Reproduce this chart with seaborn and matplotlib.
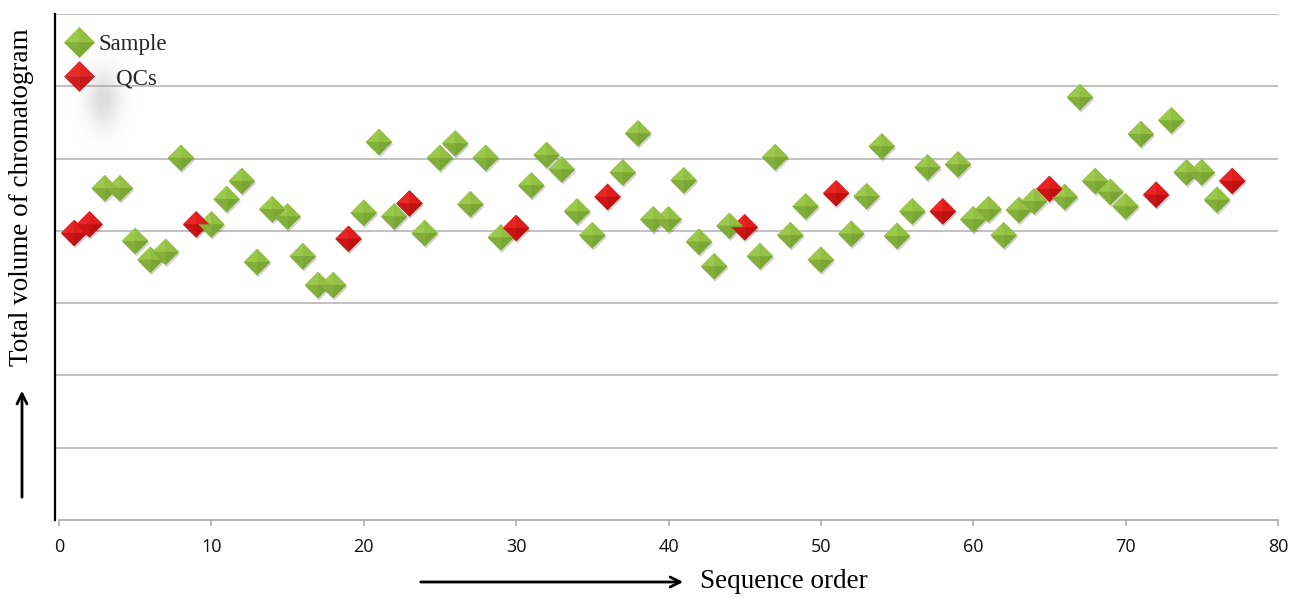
import numpy as np
import pandas as pd
import matplotlib
matplotlib.use("Agg")
import matplotlib.pyplot as plt
import matplotlib.patheffects as pe
import seaborn as sns
from matplotlib.path import Path
from matplotlib.lines import Line2D
from matplotlib.patches import FancyArrowPatch
from matplotlib.legend_handler import HandlerTuple

# ---- data -----------------------------------------------------------------
run_order = list(range(1, 78))
total_volume = [
    3.97, 4.09, 4.59, 4.59, 3.86, 3.60, 3.71, 5.01, 4.09, 4.09,
    4.44, 4.69, 3.57, 4.30, 4.20, 3.65, 3.25, 3.25, 3.89, 4.25,
    5.23, 4.20, 4.38, 3.97, 5.01, 5.21, 4.37, 5.01, 3.91, 4.04,
    4.63, 5.05, 4.85, 4.27, 3.94, 4.47, 4.81, 5.35, 4.16, 4.16,
    4.70, 3.85, 3.51, 4.07, 4.05, 3.65, 5.02, 3.94, 4.34, 3.60,
    4.52, 3.96, 4.48, 5.17, 3.93, 4.27, 4.88, 4.27, 4.92, 4.16,
    4.30, 3.94, 4.29, 4.41, 4.58, 4.47, 5.85, 4.69, 4.54, 4.34,
    5.34, 4.50, 5.53, 4.81, 4.81, 4.43, 4.69,
]
qc_runs = [1, 2, 9, 19, 23, 30, 36, 45, 51, 58, 65, 72, 77]
groups = ["Sample", "QCs"]
x_ticks = [0, 10, 20, 30, 40, 50, 60, 70, 80]

df = pd.DataFrame({
    "order": run_order,
    "volume": total_volume,
    "group": ["QCs" if r in qc_runs else "Sample" for r in run_order],
})

# ---- styling --------------------------------------------------------------
W, H, DPI = 1290, 598, 100
sns.set_theme(style="white")
plt.rcParams["font.family"] = ["Liberation Serif", "DejaVu Serif"]


# pyramid-shaded diamond: full body + four facets
def tri(a, b):
    return Path([(0, 0), a, b, (0, 0)],
                [Path.MOVETO, Path.LINETO, Path.LINETO, Path.CLOSEPOLY])


T, R, B, L = (0, 1), (1, 0), (0, -1), (-1, 0)
body = Path([T, R, B, L, T],
            [Path.MOVETO, Path.LINETO, Path.LINETO, Path.LINETO, Path.CLOSEPOLY])
facets = [tri(L, T), tri(T, R), tri(R, B), tri(B, L)]

body_col = {"Sample": "#8cb83f", "QCs": "#d51818"}
facet_cols = [
    {"Sample": "#9cc84c", "QCs": "#e92525"},  # upper left
    {"Sample": "#93c044", "QCs": "#df1d1d"},  # upper right
    {"Sample": "#7ba633", "QCs": "#bf1010"},  # lower right
    {"Sample": "#83ae39", "QCs": "#c91515"},  # lower left
]
MS = 360

fig = plt.figure(figsize=(W / DPI, H / DPI), dpi=DPI)
x0_px, x80_px = 59.0, 1278.0
ppu = (x80_px - x0_px) / 80.0
left_data = -0.25
ax = fig.add_axes([(x0_px + left_data * ppu) / W, 78 / H,
                   (x80_px - x0_px - left_data * ppu) / W, (520 - 14) / H])

# soft grey haze under the legend
gx = np.linspace(-3, 3, 80)
gy = np.linspace(-3, 3, 100)
GX, GY = np.meshgrid(gx, gy)
haze = np.zeros((100, 80, 4))
haze[..., :3] = 0.55
haze[..., 3] = 0.30 * np.exp(-0.5 * (GX ** 2 + GY ** 2))
ax.imshow(haze, extent=(0.6, 5.2, 5.0, 6.65), aspect="auto",
          zorder=1, interpolation="bilinear")

# grid
for yv in range(1, 8):
    ax.axhline(yv, color="#b0b0b0", lw=1.1, zorder=0.5)

# markers (body with a faint drop shadow, then shaded facets)
sns.scatterplot(data=df, x="order", y="volume", hue="group", hue_order=groups,
                palette=body_col, marker=body, s=MS, linewidth=0,
                legend=False, ax=ax, zorder=3)
ax.collections[-1].set_path_effects(
    [pe.SimplePatchShadow(offset=(0.8, -1.6), shadow_rgbFace="#000000",
                          alpha=0.18), pe.Normal()])
for cols, fp in zip(facet_cols, facets):
    sns.scatterplot(data=df, x="order", y="volume", hue="group",
                    hue_order=groups, palette=cols, marker=fp, s=MS,
                    linewidth=0, legend=False, ax=ax, zorder=3)

ax.set_xlim(left_data, 80)
ax.set_ylim(0, 7)

# axes
ax.set_xticks(x_ticks)
ax.set_xticklabels([str(t) for t in x_ticks], family="Open Sans",
                   fontsize=13, color="#111111")
ax.set_yticks([])
ax.set_xlabel("")
ax.set_ylabel("")
for s in ("top", "right"):
    ax.spines[s].set_visible(False)
ax.spines["left"].set_color("black")
ax.spines["left"].set_linewidth(1.6)
ax.spines["bottom"].set_color("#a8a8a8")
ax.spines["bottom"].set_linewidth(1.2)
ax.spines["bottom"].set_bounds(0, 80)
ax.tick_params(axis="x", direction="out", length=4, width=1.1,
               color="#a8a8a8", pad=9, bottom=True)

# legend
handles = []
for g, lg_alpha in (("Sample", 1.0), ("QCs", 0.8)):
    parts = [Line2D([], [], ls="none", marker=body, markersize=22,
                    markerfacecolor=body_col[g], markeredgewidth=0,
                    alpha=lg_alpha)]
    for cols, fp in zip(facet_cols, facets):
        parts.append(Line2D([], [], ls="none", marker=fp, markersize=22,
                            markerfacecolor=cols[g], markeredgewidth=0,
                            alpha=lg_alpha))
    handles.append(tuple(parts))
leg = ax.legend(handles, ["Sample", "   QCs"],
                handler_map={tuple: HandlerTuple(ndivide=1, pad=0)},
                loc="upper left", bbox_to_anchor=(-0.0057, 0.993),
                frameon=False, fontsize=16.5, handlelength=1.3,
                handletextpad=0.2, labelspacing=0.6, borderaxespad=0.3)

# axis titles with direction arrows
fig.text(22 / W, 1 - 197 / H, "Total volume of chromatogram", rotation=90,
         ha="center", va="center", fontsize=19.5, color="black")
fig.add_artist(FancyArrowPatch(
    (22 / W, 1 - 500 / H), (22 / W, 1 - 388 / H), transform=fig.transFigure,
    arrowstyle="->", mutation_scale=18, lw=2, color="black"))
fig.text(700 / W, 1 - 582 / H, "Sequence order", ha="left", va="center",
         fontsize=19.5, color="black")
fig.add_artist(FancyArrowPatch(
    (418 / W, 1 - 582 / H), (686 / W, 1 - 582 / H), transform=fig.transFigure,
    arrowstyle="->", mutation_scale=18, lw=2, color="black"))

fig.savefig("out.png", dpi=DPI, facecolor="white")
